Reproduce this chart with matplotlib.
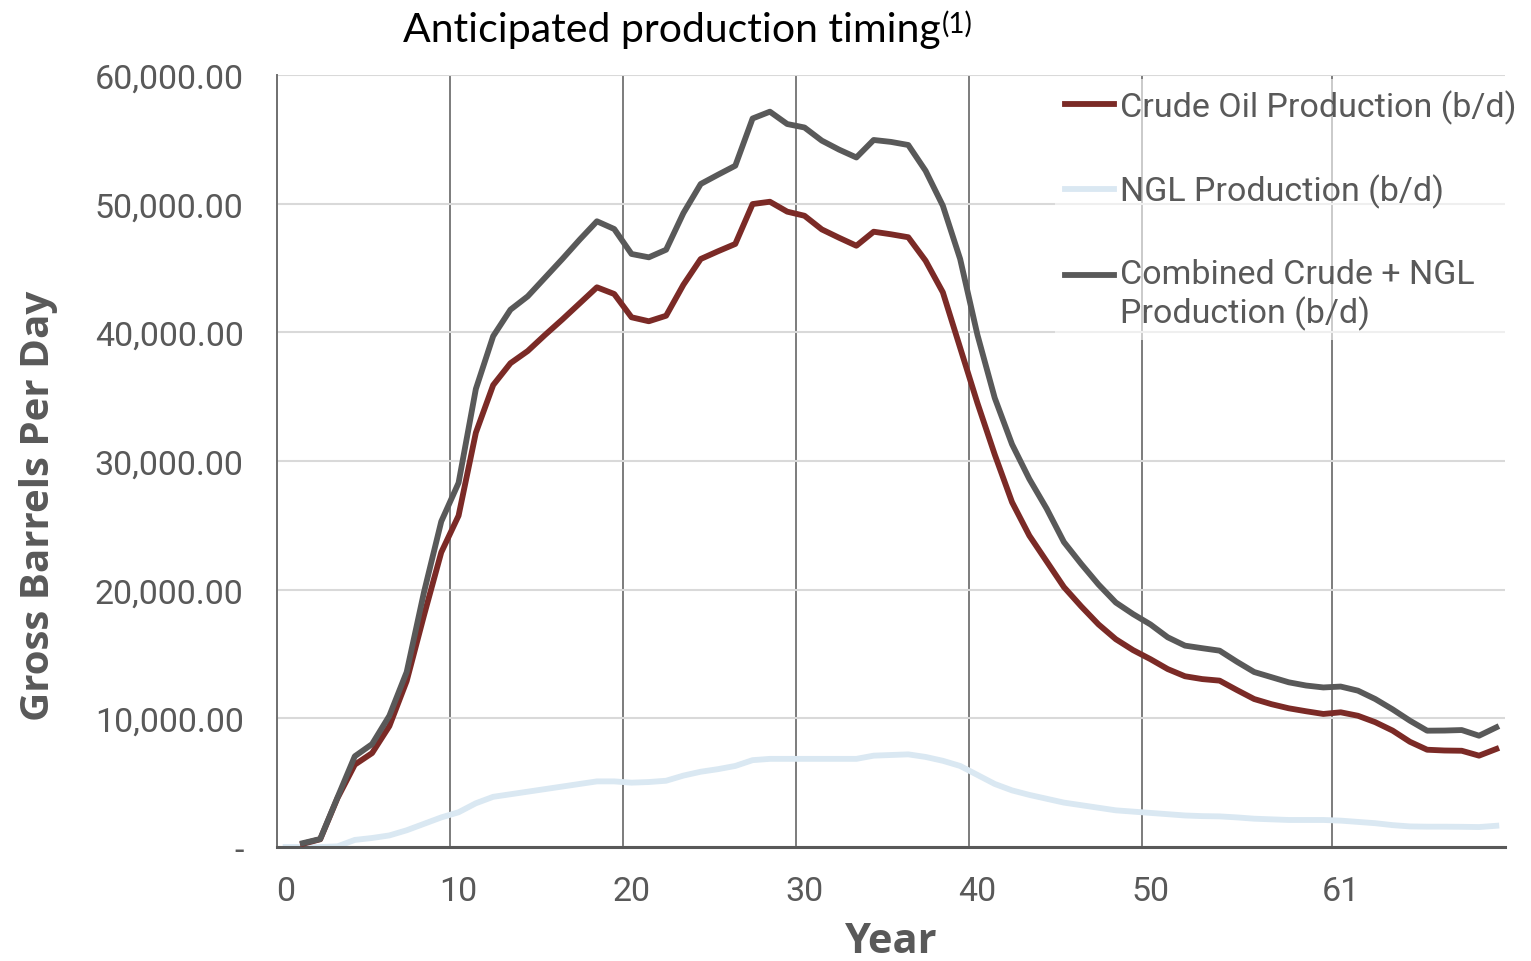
import matplotlib
matplotlib.use('Agg')
import matplotlib.pyplot as plt
import numpy as np

# ── Data ──
years = list(range(71))
tick_pos = [0, 10, 20, 30, 40, 50, 61]
tick_text = ['0', '10', '20', '30', '40', '50', '61']
grid_x = [9.5, 19.5, 29.5, 39.5, 49.5, 60.5]

crude = [np.nan, 250, 600, 3800, 6400, 7300, 9400, 12900, 18000, 22900,
         25750, 32200, 35900, 37600, 38550, 39800, 41000, 42250, 43500, 42980,
         41170, 40860, 41290, 43700, 45700, 46300, 46870, 49970, 50150, 49380,
         49060, 48000, 47350, 46730, 47820, 47620, 47390, 45570, 43110, 38800,
         34500, 30500, 26800, 24200, 22200, 20200, 18700, 17300, 16150, 15300,
         14600, 13830, 13270, 13050, 12930, 12200, 11500, 11100, 10780, 10550,
         10340, 10470, 10200, 9700, 9050, 8180, 7560, 7500, 7480, 7100,
         7620]

ngl = [0, 0, 0, 50, 550, 700, 900, 1300, 1800, 2300,
       2700, 3400, 3900, 4100, 4300, 4500, 4700, 4900, 5100, 5100,
       5000, 5050, 5150, 5550, 5850, 6050, 6300, 6750, 6850, 6850,
       6850, 6850, 6850, 6850, 7100, 7150, 7200, 7000, 6700, 6300,
       5600, 4900, 4400, 4050, 3750, 3450, 3250, 3050, 2850, 2750,
       2650, 2550, 2450, 2400, 2380, 2300, 2200, 2150, 2100, 2100,
       2100, 2050, 1950, 1850, 1700, 1600, 1580, 1580, 1570, 1550,
       1650]

combined = [np.nan, 300, 620, 3850, 7050, 8000, 10200, 13600, 19800, 25300,
            28300, 35600, 39700, 41760, 42800, 44250, 45700, 47200, 48630, 48030,
            46090, 45830, 46420, 49270, 51530, 52250, 52950, 56620, 57150, 56190,
            55920, 54900, 54200, 53590, 54950, 54800, 54560, 52560, 49840, 45700,
            39800, 34900, 31300, 28600, 26300, 23700, 22000, 20400, 19000, 18100,
            17300, 16300, 15650, 15450, 15260, 14400, 13600, 13200, 12800, 12550,
            12400, 12470, 12150, 11500, 10700, 9820, 9040, 9050, 9090, 8650,
            9300]

y_ticks = [0, 10000, 20000, 30000, 40000, 50000, 60000]

GRAY = '#595959'
LW = 4.2

fig = plt.figure(figsize=(15.31, 9.62), dpi=100, facecolor='white')
ax = fig.add_axes([0.1809, 0.1185, 0.8021, 0.8025])

ax.plot(years, crude, color='#7b2a26', lw=LW, label='Crude Oil Production (b/d)',
        solid_joinstyle='round', zorder=3)
ax.plot(years, ngl, color='#dae8f2', lw=LW, label='NGL Production (b/d)',
        solid_joinstyle='round', zorder=2)
ax.plot(years, combined, color=GRAY, lw=LW,
        label='Combined Crude + NGL\nProduction (b/d)',
        solid_joinstyle='round', zorder=4)

ax.set_xlim(-0.5, 70.5)
ax.set_ylim(0, 60000)

ax.set_xticks(tick_pos)
ax.set_xticklabels(tick_text)
ax.set_xticks(grid_x, minor=True)
ax.set_yticks(y_ticks)
ax.set_yticklabels(['-' if v == 0 else f'{v:,.2f}' for v in y_ticks])

ax.tick_params(axis='both', which='both', length=0, colors=GRAY, labelsize=24.5)
ax.tick_params(axis='x', pad=20)
ax.tick_params(axis='y', pad=24)
for lab in ax.get_xticklabels() + ax.get_yticklabels():
    lab.set_fontfamily('Roboto')

ax.grid(True, axis='y', color='#d9d9d9', lw=1.5)
ax.grid(True, axis='x', which='minor', color=GRAY, lw=1.1)
ax.set_axisbelow(True)

for side in ['top', 'right']:
    ax.spines[side].set_visible(False)
ax.spines['bottom'].set_color(GRAY)
ax.spines['bottom'].set_linewidth(2.2)
ax.spines['left'].set_color('#6f6f6f')
ax.spines['left'].set_linewidth(1.4)

ax.set_xlabel('Year', fontsize=30, fontweight='bold', color=GRAY,
              family='Open Sans', labelpad=10)
ax.set_ylabel('Gross Barrels Per Day', fontsize=29, fontweight='bold',
              color=GRAY, family='Open Sans')
ax.yaxis.set_label_coords(-0.178, 0.443)

title = fig.text(403 / 1531, 1 - 42 / 962, 'Anticipated production timing',
                 fontsize=29.5, family='Lato', color='black', va='baseline', ha='left')
ax.annotate('(1)', xy=(1, 1), xycoords=title, xytext=(1, 1),
            textcoords='offset points', ha='left', va='top',
            fontsize=20, family='Lato', color='black')

leg = ax.legend(loc='upper left', bbox_to_anchor=(1055 / 1531, 1 - 80 / 962),
                bbox_transform=fig.transFigure, frameon=True,
                handlelength=1.42, handletextpad=0.2, labelspacing=1.47,
                borderaxespad=0, borderpad=0.3, fancybox=False,
                prop={'family': 'Roboto', 'size': 24.5})
leg.get_frame().set_facecolor('white')
leg.get_frame().set_alpha(0.6)
leg.get_frame().set_edgecolor('none')
for t in leg.get_texts():
    t.set_color(GRAY)
# the two-line entry keeps its key beside the first line
key = leg.get_lines()[2]
key.set_ydata(np.asarray(key.get_ydata()) + 14.5)

fig.savefig('out.png', dpi=100, facecolor='white')
plt.close(fig)
